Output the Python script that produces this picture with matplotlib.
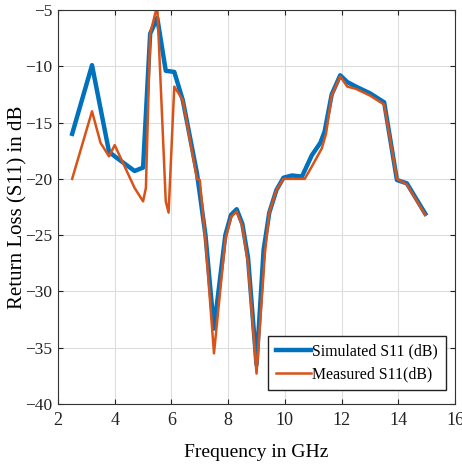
import matplotlib.pyplot as plt

plt.rcParams['font.family'] = ['Liberation Serif', 'DejaVu Serif']

# simulated S11
sim_f = [2.5, 3.2, 3.8, 4.0, 4.7, 5.0, 5.25, 5.5, 5.8, 6.1, 6.4, 6.9, 7.2, 7.5,
         7.9, 8.1, 8.3, 8.5, 8.7, 9.0, 9.25, 9.45, 9.7, 9.95, 10.25, 10.6,
         10.95, 11.25, 11.4, 11.65, 11.95, 12.2, 12.5, 13.0, 13.5, 13.95,
         14.3, 14.95]
sim_s11 = [-16, -9.9, -17.6, -18, -19.3, -19, -7.1, -5.7, -10.4, -10.5, -13.0,
           -19.5, -25, -33.3, -25, -23.2, -22.7, -24, -27, -36.5, -26.3, -23,
           -21, -19.9, -19.7, -19.8, -17.9, -16.8, -15.8, -12.5, -10.8, -11.4,
           -11.8, -12.4, -13.2, -20.1, -20.4, -23.1]

# measured S11
meas_f = [2.5, 3.2, 3.5, 3.8, 4.0, 4.7, 5.0, 5.1, 5.25, 5.5, 5.8, 5.9, 6.1,
          6.4, 6.9, 7.0, 7.2, 7.5, 7.9, 8.1, 8.3, 8.5, 8.7, 9.0, 9.3, 9.45,
          9.7, 9.95, 10.7, 10.95, 11.3, 11.45, 11.65, 11.95, 12.2, 12.5, 13.0,
          13.5, 13.95, 14.3, 14.95]
meas_s11 = [-20, -14, -16.8, -18, -17, -20.8, -22, -20.8, -7.1, -4.6, -22, -23,
            -11.8, -13, -20, -20.1, -25.5, -35.5, -25.4, -23.4, -22.9, -24.2,
            -27.5, -37.3, -26.5, -23, -21, -20, -20, -18.9, -17.3, -16, -12.6,
            -10.9, -11.8, -12, -12.6, -13.4, -20, -20.5, -23.2]

fig = plt.figure(figsize=(4.62, 4.68), dpi=100)
ax = fig.add_axes([0.1255, 0.1368, 0.8595, 0.8418])

ax.plot(sim_f, sim_s11, color='#0072BD', linewidth=3.2, label='Simulated S11 (dB)')
ax.plot(meas_f, meas_s11, color='#D95319', linewidth=1.8, label='Measured S11(dB)')

ax.set_xlim(2, 16)
ax.set_ylim(-40, -5)
ax.set_xticks(range(2, 17, 2))
ax.set_yticks(range(-40, -4, 5))
ax.grid(True, color='#dddddd', linewidth=0.8)
ax.tick_params(direction='in', top=True, right=True, labelsize=13, colors='#222222')
ax.tick_params(axis='y', labelsize=12.5, pad=4)
ax.tick_params(axis='x', pad=6)
for s in ax.spines.values():
    s.set_color('#333333')

ax.set_xlabel('Frequency in GHz', fontsize=14, va='center')
ax.xaxis.set_label_coords(0.5, -0.122)
ax.set_ylabel('Return Loss (S11) in dB', fontsize=15, va='center')
ax.yaxis.set_label_coords(-0.1, 0.5)

leg = ax.legend(loc='lower right', bbox_to_anchor=(0.977, 0.0355), fontsize=11.4,
                fancybox=False, framealpha=1, edgecolor='#222222',
                handlelength=2.2, handletextpad=0.1, borderpad=0.5,
                labelspacing=0.4, borderaxespad=0)

fig.savefig('out.png', dpi=100)
